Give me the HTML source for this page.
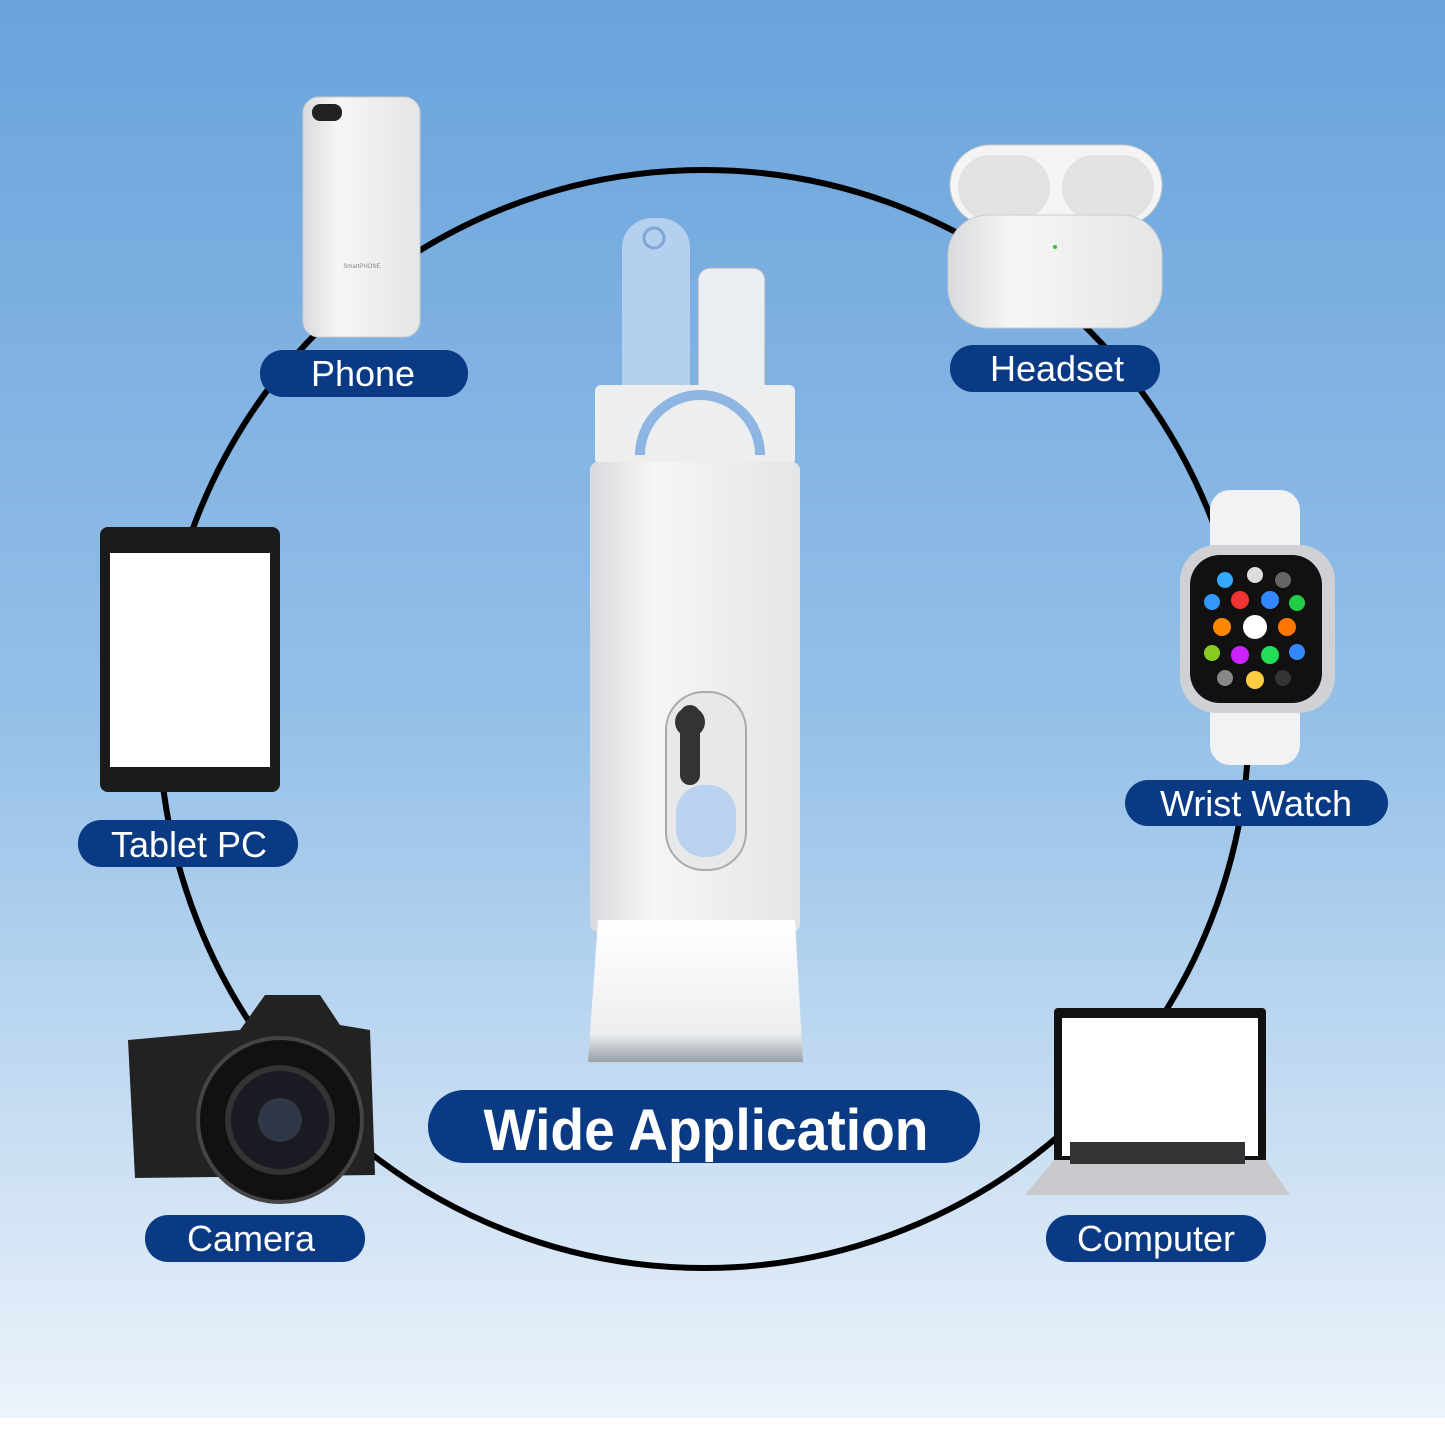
<!DOCTYPE html>
<html><head><meta charset="utf-8"><style>
html,body{margin:0;padding:0;width:1445px;height:1445px;overflow:hidden}
svg{display:block}
text{font-family:"Liberation Sans",sans-serif;fill:#fff}
</style></head><body>
<svg width="1445" height="1445" viewBox="0 0 1445 1445" xmlns="http://www.w3.org/2000/svg">
<defs>
<linearGradient id="bg" x1="0" y1="0" x2="0" y2="1">
<stop offset="0" stop-color="#6aa3dc"/><stop offset="0.5" stop-color="#95c0e8"/><stop offset="1" stop-color="#f0f5fb"/>
</linearGradient>
<linearGradient id="wh" x1="0" y1="0" x2="1" y2="0">
<stop offset="0" stop-color="#d8dadd"/><stop offset="0.3" stop-color="#f6f6f6"/><stop offset="1" stop-color="#e4e5e7"/>
</linearGradient>
<linearGradient id="br" x1="0" y1="0" x2="0" y2="1">
<stop offset="0" stop-color="#ffffff"/><stop offset="0.8" stop-color="#eceef0"/><stop offset="1" stop-color="#9aa0a8"/>
</linearGradient>
</defs>
<rect width="1445" height="1445" fill="url(#bg)"/>
<rect y="1418" width="1445" height="27" fill="#fff"/>
<ellipse cx="704" cy="719" rx="545" ry="549" fill="none" stroke="#000" stroke-width="6"/>

<!-- phone -->
<rect x="303" y="97" width="117" height="240" rx="16" fill="url(#wh)" stroke="#ccc"/>
<rect x="312" y="104" width="30" height="17" rx="8" fill="#222"/>
<text x="362" y="268" font-size="6" fill="#888" style="fill:#888" text-anchor="middle">SmartPHONE</text>
<!-- airpods -->
<rect x="950" y="145" width="212" height="80" rx="40" fill="#f4f4f4" stroke="#ccc"/>
<rect x="958" y="155" width="92" height="65" rx="32" fill="#e2e2e2"/>
<rect x="1062" y="155" width="92" height="65" rx="32" fill="#e2e2e2"/>
<rect x="948" y="215" width="214" height="113" rx="40" fill="url(#wh)" stroke="#ccc"/>
<circle cx="1055" cy="247" r="2" fill="#2c2"/>
<!-- tablet -->
<rect x="100" y="527" width="180" height="265" rx="8" fill="#1b1b1b"/>
<rect x="110" y="553" width="160" height="214" fill="#fff"/>
<!-- watch -->
<rect x="1210" y="490" width="90" height="275" rx="20" fill="#f2f2f2"/>
<rect x="1180" y="545" width="155" height="168" rx="36" fill="#cfd1d4"/>
<rect x="1190" y="555" width="132" height="148" rx="30" fill="#111"/>
<g>
<circle cx="1225" cy="580" r="8" fill="#3af"/><circle cx="1255" cy="575" r="8" fill="#ddd"/><circle cx="1283" cy="580" r="8" fill="#666"/>
<circle cx="1212" cy="602" r="8" fill="#39f"/><circle cx="1240" cy="600" r="9" fill="#e33"/><circle cx="1270" cy="600" r="9" fill="#38f"/><circle cx="1297" cy="603" r="8" fill="#2c4"/>
<circle cx="1222" cy="627" r="9" fill="#f80"/><circle cx="1255" cy="627" r="12" fill="#fff"/><circle cx="1287" cy="627" r="9" fill="#f70"/>
<circle cx="1212" cy="653" r="8" fill="#8c2"/><circle cx="1240" cy="655" r="9" fill="#c2f"/><circle cx="1270" cy="655" r="9" fill="#2d5"/><circle cx="1297" cy="652" r="8" fill="#38f"/>
<circle cx="1225" cy="678" r="8" fill="#888"/><circle cx="1255" cy="680" r="9" fill="#fc4"/><circle cx="1283" cy="678" r="8" fill="#333"/>
</g>
<!-- camera -->
<path d="M128 1040 L240 1030 L265 995 L320 995 L340 1025 L370 1030 L375 1175 L135 1178 Z" fill="#222"/>
<circle cx="280" cy="1120" r="82" fill="#111" stroke="#444" stroke-width="4"/>
<circle cx="280" cy="1120" r="52" fill="#1a1a22" stroke="#333" stroke-width="6"/>
<circle cx="280" cy="1120" r="22" fill="#303848"/>
<!-- laptop -->
<rect x="1054" y="1008" width="212" height="155" rx="4" fill="#111"/>
<rect x="1062" y="1018" width="196" height="138" fill="#fff"/>
<path d="M1054 1160 L1266 1160 L1290 1195 L1025 1195 Z" fill="#c8cacd"/>
<rect x="1070" y="1142" width="175" height="22" fill="#333"/>

<!-- brush -->
<rect x="622" y="218" width="68" height="200" rx="30" fill="#b5d0ee"/>
<circle cx="654" cy="238" r="10" fill="none" stroke="#7fa6d6" stroke-width="3"/>
<rect x="698" y="268" width="67" height="150" rx="12" fill="#e8eef2" stroke="#aab" />
<rect x="595" y="385" width="200" height="80" rx="6" fill="#eceef0"/>
<path d="M640 455 A58 58 0 0 1 760 455" fill="none" stroke="#8fb5e2" stroke-width="10"/>
<rect x="590" y="462" width="210" height="470" rx="8" fill="url(#wh)"/>
<rect x="666" y="692" width="80" height="178" rx="38" fill="#e6e8ea" stroke="#aaa" stroke-width="2"/>
<rect x="680" y="705" width="20" height="80" rx="10" fill="#333"/>
<circle cx="690" cy="722" r="15" fill="#333"/>
<rect x="676" y="785" width="60" height="72" rx="28" fill="#b9d2ef"/>
<path d="M598 920 L795 920 L803 1062 L588 1062 Z" fill="url(#br)"/>

<!-- labels -->
<g>
<rect x="260" y="350" width="208" height="47" rx="23" fill="#0b3a84"/>
<text x="363" y="386" font-size="36" text-anchor="middle">Phone</text>
<rect x="950" y="345" width="210" height="47" rx="23" fill="#0b3a84"/>
<text x="1057" y="381" font-size="36" text-anchor="middle">Headset</text>
<rect x="78" y="820" width="220" height="47" rx="23" fill="#0b3a84"/>
<text x="189" y="857" font-size="36" text-anchor="middle">Tablet PC</text>
<rect x="1125" y="780" width="263" height="46" rx="23" fill="#0b3a84"/>
<text x="1256" y="816" font-size="36" text-anchor="middle">Wrist Watch</text>
<rect x="145" y="1215" width="220" height="47" rx="23" fill="#0b3a84"/>
<text x="251" y="1251" font-size="36" text-anchor="middle">Camera</text>
<rect x="1046" y="1215" width="220" height="47" rx="23" fill="#0b3a84"/>
<text x="1156" y="1251" font-size="36" text-anchor="middle">Computer</text>
<rect x="428" y="1090" width="552" height="73" rx="36" fill="#0b3a84"/>
<text x="706" y="1150" font-size="58" font-weight="bold" text-anchor="middle" textLength="445" lengthAdjust="spacingAndGlyphs">Wide Application</text>
</g>
</svg>
</body></html>
